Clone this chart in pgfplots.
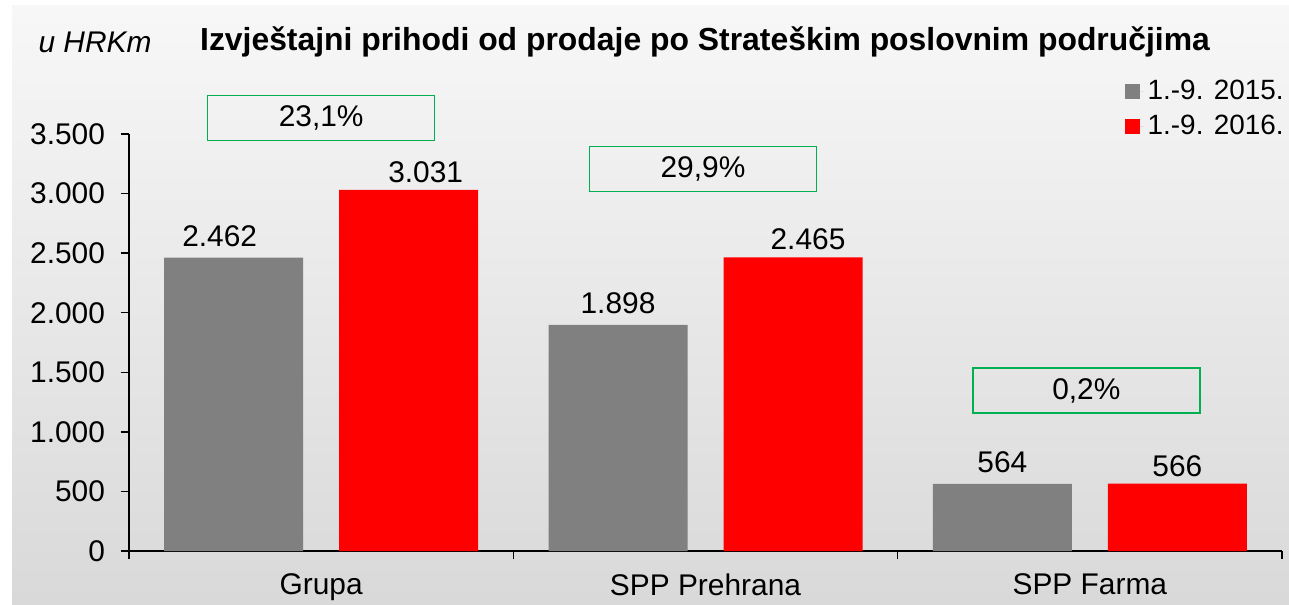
\documentclass[border=0pt]{standalone}
\usepackage{fontspec}
\setmainfont{Liberation Sans}
\usepackage{pgfplots}
\usepackage{pgfplotstable}
\pgfplotsset{compat=1.18}
\definecolor{bargray}{RGB}{128,128,128}
\definecolor{barred}{RGB}{255,0,0}
\definecolor{boxgreen}{RGB}{0,176,80}
\pgfplotstableread{
x y dx
0 2462 -7
1 1898 0
2 564 0
}\grayt
\pgfplotstableread{
x y dx
0 3031 8.5
1 2465 7.5
2 566 0
}\redt
\newcommand{\fs}{\fontsize{15}{17}\selectfont}
\begin{document}
\begin{tikzpicture}
\useasboundingbox (0,0) rectangle (644.5bp,302.5bp);
\shade[top color=white!97!black, bottom color=white!85!black] (6bp,0) rectangle (644.5bp,299.5bp);
\node[font=\fs\itshape] at (47.5bp,281.5bp) {u HRKm};
\node[font=\fontsize{16}{18}\selectfont\bfseries] at (352.5bp,281.5bp) {Izvještajni prihodi od prodaje po Strateškim poslovnim područjima};
\begin{axis}[
  at={(64.5bp,27bp)}, anchor=south west,
  scale only axis, width=576.5bp, height=208.5bp,
  xmin=-0.5, xmax=2.5, ymin=0, ymax=3500,
  axis x line*=bottom, axis y line*=left,
  axis line style={black, line width=0.75bp},
  every tick/.style={black, line width=0.75bp},
  ytick={0,500,...,3500},
  xtick={0,1,2}, xticklabels={Grupa, SPP Prehrana, SPP Farma},
  minor xtick={-0.5,0.5,1.5,2.5},
  major x tick style={draw=none},
  tick align=outside, major tick length=4bp, minor tick length=4bp,
  ybar=18bp, bar width=69.5bp,
  clip=false,
  /pgf/number format/use comma,
  /pgf/number format/1000 sep={.},
  /pgf/number format/assume math mode=true,
  tick label style={font=\fs},
  yticklabel style={xshift=-4.5bp},
  xticklabel style={yshift=-4bp},
  nodes near coords,
  visualization depends on={\thisrow{dx} \as \dx},
  nodes near coords style={font=\fs, black, xshift=\dx bp},
  legend style={at={(1,1.15)}, xshift=6bp, anchor=north east, draw=none, fill=none,
    font=\fontsize{14}{16}\selectfont, row sep=2.5bp},
  legend cell align=left,
]
\addplot[fill=bargray, draw=none, nodes near coords style={yshift=2bp},
  legend image code/.code={\path (0bp,0bp) -- (9.5bp,0bp); \fill[bargray] (0bp,-3.75bp) rectangle (7.5bp,3.75bp);}]
  table[x=x,y=y] {\grayt};
\addlegendentry{1.-9. 2015.}
\addplot[fill=barred, draw=none,
  legend image code/.code={\path (0bp,0bp) -- (9.5bp,0bp); \fill[barred] (0bp,-3.75bp) rectangle (7.5bp,3.75bp);}]
  table[x=x,y=y] {\redt};
\addlegendentry{1.-9. 2016.}
\node[draw=boxgreen, line width=0.75bp, minimum width=113.5bp, minimum height=22.5bp, font=\fs] at (axis cs:0,3633) {23,1\%};
\node[draw=boxgreen, line width=0.75bp, minimum width=113.5bp, minimum height=22.5bp, font=\fs, xshift=-1.25bp] at (axis cs:1,3205) {29,9\%};
\node[draw=boxgreen, line width=0.75bp, minimum width=113.5bp, minimum height=22.5bp, font=\fs, xshift=-1.75bp] at (axis cs:2,1346) {0,2\%};
\end{axis}
\end{tikzpicture}
\end{document}
